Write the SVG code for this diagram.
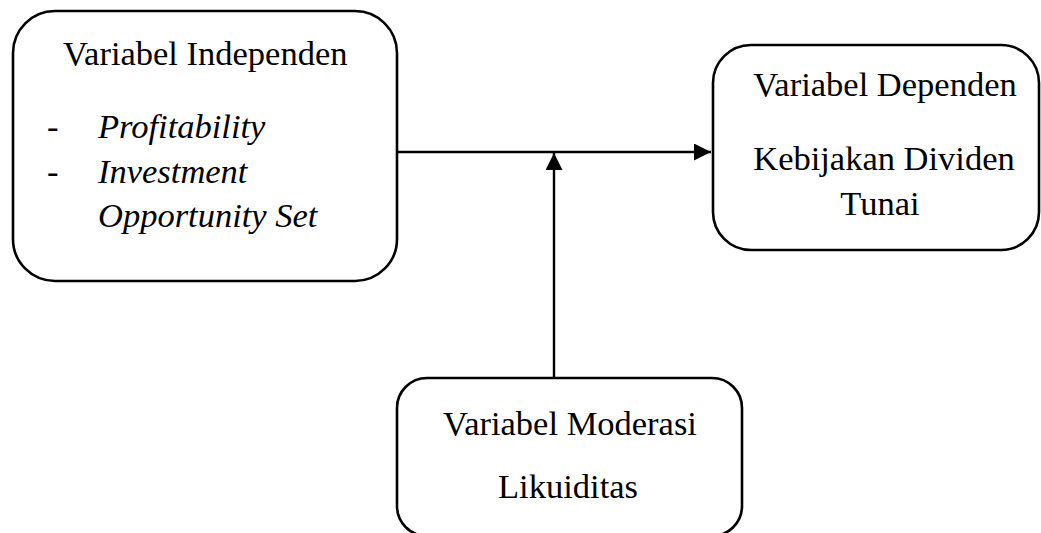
<svg xmlns="http://www.w3.org/2000/svg" width="1041" height="533" viewBox="0 0 1041 533">
<style>
.box{fill:#fff;stroke:#000;stroke-width:2.6}
.t{font-family:"Liberation Serif",serif;font-size:34.5px;fill:#000}
.i{font-style:italic}
.c{stroke:#000;stroke-width:2.4;fill:none}
</style>
<defs>
<marker id="ah" viewBox="0 0 10 10" refX="10" refY="5" markerWidth="18" markerHeight="17" markerUnits="userSpaceOnUse" orient="auto">
<path d="M0,0 L10,5 L0,10 z" fill="#000"/>
</marker>
</defs>
<rect width="1041" height="533" fill="#fff"/>
<g id="connectors">
<line class="c" x1="398" y1="152" x2="711" y2="152" marker-end="url(#ah)"/>
<line class="c" x1="554" y1="378" x2="554" y2="153" marker-end="url(#ah)"/>
</g>
<g id="independen">
<rect class="box" x="13" y="11" width="384" height="270" rx="42" ry="42"/>
<text class="t" x="63" y="65">Variabel Independen</text>
<text class="t" x="47" y="138">-</text>
<text class="t i" x="98" y="138">Profitability</text>
<text class="t" x="47" y="183">-</text>
<text class="t i" x="98" y="183">Investment</text>
<text class="t i" x="98" y="227">Opportunity Set</text>
</g>
<g id="dependen">
<rect class="box" x="713" y="45" width="326" height="205" rx="38" ry="38"/>
<text class="t" x="885" y="96" text-anchor="middle">Variabel Dependen</text>
<text class="t" x="884" y="170" text-anchor="middle">Kebijakan Dividen</text>
<text class="t" x="880" y="215" text-anchor="middle">Tunai</text>
</g>
<g id="moderasi">
<rect class="box" x="397" y="378" width="345" height="158" rx="30" ry="30"/>
<text class="t" x="570" y="435" text-anchor="middle">Variabel Moderasi</text>
<text class="t" x="568" y="498" text-anchor="middle">Likuiditas</text>
</g>
</svg>
